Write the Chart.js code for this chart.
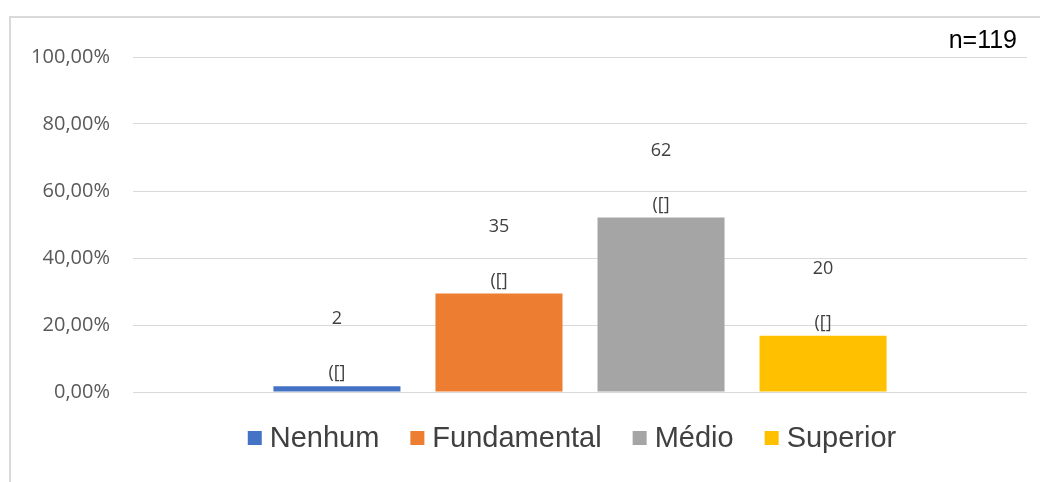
<!DOCTYPE html>
<html>
<head>
<meta charset="utf-8">
<script src="https://cdn.jsdelivr.net/npm/chart.js@4/dist/chart.umd.min.js"></script>
<style>
  html, body { margin: 0; padding: 0; background: #ffffff; }
  #wrap { position: relative; width: 1040px; height: 482px; }
</style>
</head>
<body>
<div id="wrap"><canvas id="chart" width="1040" height="482"></canvas></div>
<script>
// Escolaridade dos respondentes
const categories = ['Nenhum', 'Fundamental', 'Médio', 'Superior'];
const counts = [2, 35, 62, 20];
const total = 119;
const shares = counts.map(c => c / total);
const colors = ['#4472C4', '#ED7D31', '#A5A5A5', '#FFC000'];
const yTicks = [0, 0.2, 0.4, 0.6, 0.8, 1.0];
const sampleLabel = 'n=' + total;
const labelSuffix = '([]';

const fmtPct = v => (v * 100).toFixed(2).replace('.', ',') + '%';

// Frame, sample size note, bar labels and legend
const decorations = {
  id: 'decorations',
  beforeDraw(chart) {
    const ctx = chart.ctx;
    ctx.save();
    ctx.strokeStyle = '#d9d9d9';
    ctx.lineWidth = 2;
    ctx.beginPath();
    ctx.moveTo(10, 482);
    ctx.lineTo(10, 17);
    ctx.lineTo(1040, 17);
    ctx.stroke();
    ctx.restore();
  },
  afterDatasetsDraw(chart) {
    const ctx = chart.ctx;
    ctx.save();
    ctx.font = '18px "Open Sans"';
    ctx.fillStyle = '#404040';
    ctx.textAlign = 'center';
    ctx.textBaseline = 'middle';
    chart.data.datasets.forEach((ds, i) => {
      const bar = chart.getDatasetMeta(i).data[0];
      const yLow = bar.y - 13;
      ctx.fillText(labelSuffix, bar.x, yLow);
      ctx.fillText(String(counts[i]), bar.x, yLow - 54);
    });
    ctx.restore();
  },
  afterDraw(chart) {
    const ctx = chart.ctx;
    ctx.save();
    // sample size
    ctx.font = '25px "Liberation Sans"';
    ctx.fillStyle = '#000000';
    ctx.textAlign = 'right';
    ctx.textBaseline = 'alphabetic';
    ctx.fillText(sampleLabel, 1017, 48);

    // legend
    const box = 14, gap = 8, itemGap = 31, centerX = 572, midY = 438;
    ctx.font = '29px "Liberation Sans"';
    const items = chart.data.datasets.map(ds => ({
      text: ds.label, color: ds.backgroundColor, w: ctx.measureText(ds.label).width
    }));
    const width = items.reduce((s, it) => s + box + gap + it.w, 0) + itemGap * (items.length - 1);
    let x = centerX - width / 2;
    ctx.textAlign = 'left';
    ctx.textBaseline = 'middle';
    items.forEach(it => {
      ctx.fillStyle = it.color;
      ctx.fillRect(x, midY - box / 2, box, box);
      x += box + gap;
      ctx.fillStyle = '#404040';
      ctx.fillText(it.text, x, midY + 1);
      x += it.w + itemGap;
    });
    ctx.restore();
  }
};

new Chart(document.getElementById('chart'), {
  type: 'bar',
  data: {
    labels: [''],
    datasets: categories.map((name, i) => ({
      label: name,
      data: [shares[i]],
      backgroundColor: colors[i],
      borderWidth: 0
    }))
  },
  options: {
    responsive: false,
    animation: false,
    events: [],
    devicePixelRatio: 1,
    layout: { padding: { top: 57, right: 13, bottom: 90, left: 0 } },
    datasets: { bar: { categoryPercentage: 0.725, barPercentage: 0.784 } },
    plugins: {
      legend: { display: false },
      tooltip: { enabled: false },
      title: { display: false }
    },
    scales: {
      x: {
        display: false
      },
      y: {
        min: 0,
        max: 1,
        afterBuildTicks(scale) { scale.ticks = yTicks.map(v => ({ value: v })); },
        afterFit(scale) { scale.width = 133; },
        border: { display: false },
        grid: { color: '#d9d9d9', lineWidth: 1, drawTicks: false },
        ticks: {
          padding: 23,
          color: '#595959',
          font: { family: '"Open Sans"', size: 20 },
          callback: v => fmtPct(v)
        }
      }
    }
  },
  plugins: [decorations]
});
</script>
</body>
</html>
